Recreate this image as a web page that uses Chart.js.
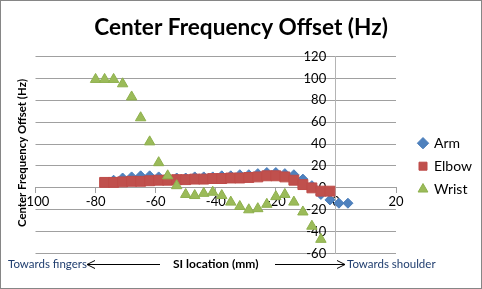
<!DOCTYPE html>
<html>
<head>
<meta charset="utf-8">
<script src="https://cdn.jsdelivr.net/npm/chart.js"></script>
<style>
  body { margin: 0; background: #fff; }
  #wrap { width: 482px; height: 289px; }
</style>
</head>
<body>
<div id="wrap"><canvas id="chart" width="482" height="289"></canvas></div>
<script>
// data (SI location in mm, offset in Hz)
const armX = [-74, -71, -68, -65, -62, -59, -56, -53, -50, -47, -44, -41, -38, -35, -32, -29, -26, -23, -20, -17, -14, -11, -8, -5, -2, 1, 4];
const armY = [7, 9, 10, 11, 11, 10, 10, 9, 9, 10, 10, 10, 11, 11, 12, 12, 13, 14, 14, 13, 12, 8, 2, -6, -11, -14, -14];
const elbowX = [-77, -74, -71, -68, -65, -62, -59, -56, -53, -50, -47, -44, -41, -38, -35, -32, -29, -26, -23, -20, -17, -14, -11, -8, -5, -2];
const elbowY = [5, 5, 5.5, 6, 6, 6.5, 7, 7, 7.5, 7.5, 8, 8, 8.5, 8.5, 9, 9, 9.5, 10, 11, 11, 10, 7, 3, 0, -3, -3];
const wristX = [-80, -77, -74, -71, -68, -65, -62, -59, -56, -53, -50, -47, -44, -41, -38, -35, -32, -29, -26, -23, -20, -17, -14, -11, -8, -5];
const wristY = [99, 99, 99, 95, 83, 64, 42, 23, 11, 2, -6, -7, -5, -4, -7, -13, -17, -20, -19, -15, -8, -6, -13, -22, -35, -47];
const xTicks = {min: -100, max: 20, step: 20};
const yTicks = {min: -60, max: 120, step: 20};

const font = 'Lato';
const grey = '#A0A0A0';

// {{{ points()
function points(xs, ys)
{
  return xs.map((x, i) => ({x: x, y: ys[i]}));
}
// }}}

// {{{ frame plugin: white page, outer border, y title, direction notes under the x axis
const frame =
{
  id: 'frame',
  beforeDraw(chart)
  {
    let ctx = chart.ctx;
    ctx.save();
    ctx.fillStyle = '#fff';
    ctx.fillRect(0, 0, chart.width, chart.height);
    ctx.restore();
  },
  afterDraw(chart)
  {
    let ctx = chart.ctx;
    let a = chart.chartArea;
    let y = 264;
    ctx.save();
    ctx.strokeStyle = '#868686';
    ctx.lineWidth = 1;
    ctx.strokeRect(0.5, 0.5, chart.width - 1, chart.height - 1);
    // y axis title
    ctx.save();
    ctx.translate(22, (a.top + a.bottom) / 2 - 2);
    ctx.rotate(-Math.PI / 2);
    ctx.font = 'bold 11.4px ' + font;
    ctx.fillStyle = '#000';
    ctx.textAlign = 'center';
    ctx.textBaseline = 'middle';
    ctx.fillText('Center Frequency Offset (Hz)', 0, 0);
    ctx.restore();
    // notes and arrows
    ctx.font = '11.5px ' + font;
    ctx.fillStyle = '#1F3D6E';
    ctx.textBaseline = 'middle';
    ctx.textAlign = 'left';
    ctx.fillText('Towards fingers', 8, y);
    ctx.fillText('Towards shoulder', 347, y);
    ctx.strokeStyle = '#000';
    ctx.beginPath();
    ctx.moveTo(160, y + 0.5);
    ctx.lineTo(87, y + 0.5);
    ctx.moveTo(95, y - 3.5);
    ctx.lineTo(87, y + 0.5);
    ctx.lineTo(95, y + 4.5);
    ctx.moveTo(275, y + 0.5);
    ctx.lineTo(345, y + 0.5);
    ctx.moveTo(337, y - 3.5);
    ctx.lineTo(345, y + 0.5);
    ctx.lineTo(337, y + 4.5);
    ctx.stroke();
    ctx.restore();
  }
};
// }}}

new Chart(document.getElementById('chart'),
{
  type: 'scatter',
  data:
  {
    datasets:
    [
      {label: 'Arm', data: points(armX, armY), order: 3, pointStyle: 'rectRot', pointRadius: 5, backgroundColor: '#4F81BD', borderColor: '#4A7EBB', borderWidth: 1},
      {label: 'Elbow', data: points(elbowX, elbowY), order: 2, pointStyle: 'rect', pointRadius: 7, backgroundColor: '#C0504D', borderColor: '#BE4B48', borderWidth: 1},
      {label: 'Wrist', data: points(wristX, wristY), order: 1, pointStyle: 'triangle', pointRadius: 6, backgroundColor: '#9BBB59', borderColor: '#8EB04D', borderWidth: 1}
    ]
  },
  options:
  {
    responsive: false,
    animation: false,
    devicePixelRatio: 1,
    layout: {padding: {left: 0, right: 0, top: 0, bottom: 13}},
    plugins:
    {
      title: {display: true, text: 'Center Frequency Offset (Hz)', color: '#000', font: {family: font, size: 22.6, weight: 'bold'}, padding: {top: 14.5, bottom: 14.8}},
      legend:
      {
        position: 'right',
        title: {display: true, text: '', padding: {top: 42, bottom: 0}},
        labels: {usePointStyle: true, boxWidth: 8, boxHeight: 8, padding: 9, color: '#000', font: {family: font, size: 14}, sort: (a, b) => a.datasetIndex - b.datasetIndex}
      },
      tooltip: {enabled: false}
    },
    scales:
    {
      x:
      {
        type: 'linear',
        position: {y: 0},
        min: xTicks.min,
        max: xTicks.max,
        ticks: {stepSize: xTicks.step, padding: 1, color: '#000', font: {family: font, size: 13}},
        grid: {drawOnChartArea: false, drawTicks: true, tickLength: 5, color: grey},
        border: {color: grey}
      },
      y:
      {
        type: 'linear',
        position: {x: 0},
        min: yTicks.min,
        max: yTicks.max,
        // labels of a centred axis sit flush on the line, so pad them with an em space
        ticks: {stepSize: yTicks.step, color: '#000', font: {family: font, size: 13}, callback: (v) => v + '\u2003'},
        grid: {drawTicks: false, color: grey},
        border: {color: '#B4B4B4'}
      },
      xTitle:
      {
        position: 'bottom',
        ticks: {display: false},
        grid: {display: false, drawTicks: false},
        border: {display: false},
        title: {display: true, text: 'SI location (mm)', color: '#000', font: {family: font, size: 12, weight: 'bold'}, padding: {top: 3, bottom: 5}},
        // room on the left for the y title without shifting the centred chart title
        afterFit: (s) => { s.paddingLeft = 35.5; }
      },
      yGap:
      {
        position: 'right',
        ticks: {display: false},
        grid: {display: false, drawTicks: false},
        border: {display: false},
        afterFit: (s) => { s.width = 14; }
      }
    }
  },
  plugins: [frame]
});
</script>
</body>
</html>
